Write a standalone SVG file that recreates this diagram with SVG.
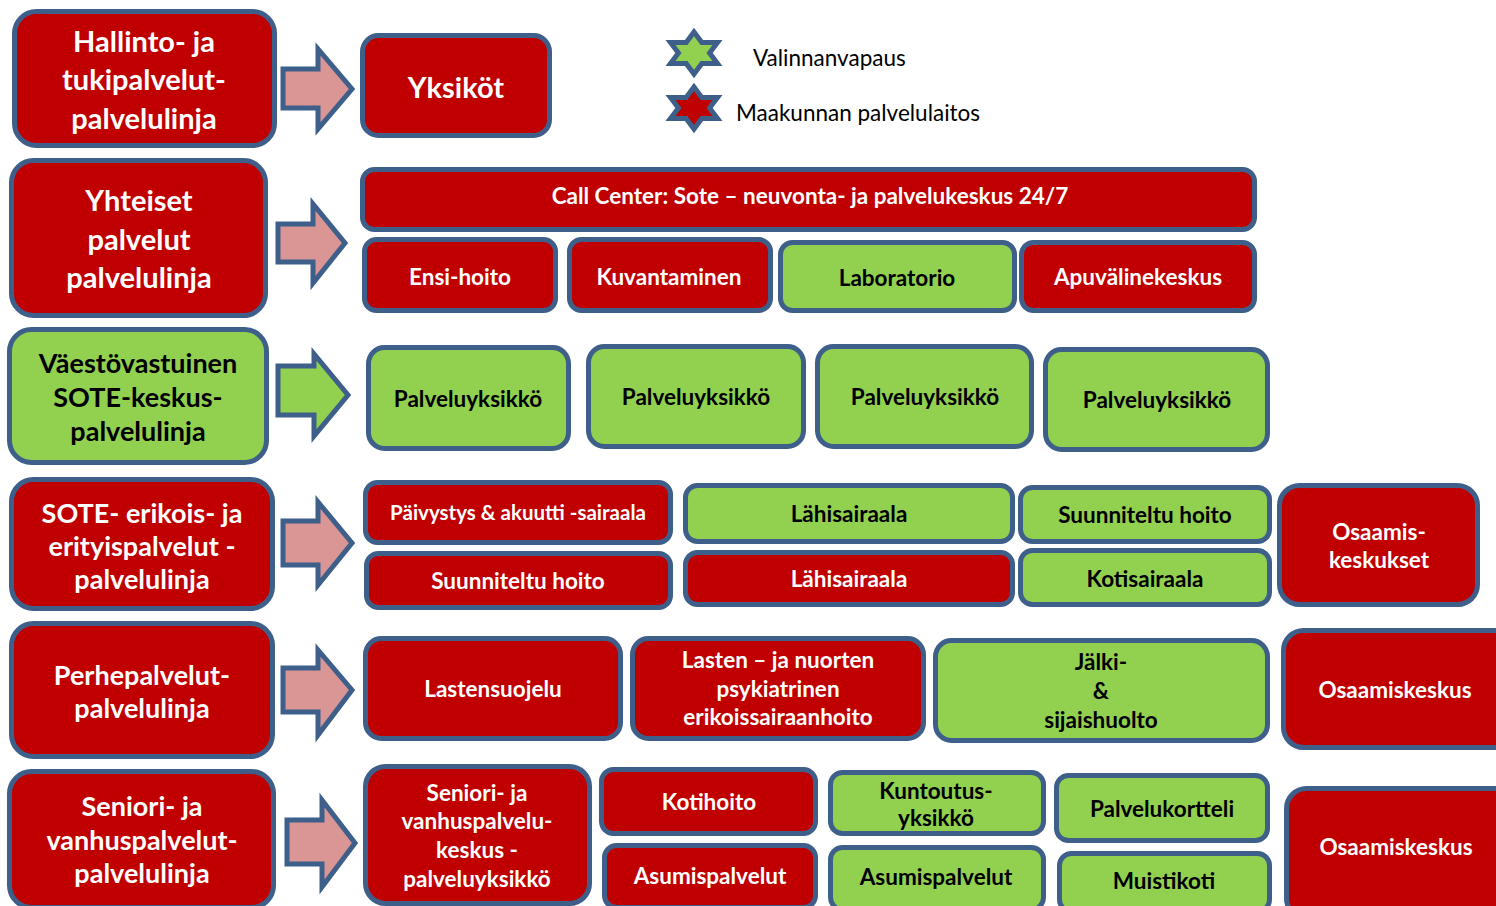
<svg xmlns="http://www.w3.org/2000/svg" width="1496" height="906" viewBox="0 0 1496 906">
<style>
.r{fill:#C00000;stroke:#3E5F8A;stroke-width:5}
.g{fill:#92D050;stroke:#3E5F8A;stroke-width:5}
.ap{fill:#D99694;stroke:#3E5F8A;stroke-width:5;stroke-linejoin:miter}
.ag{fill:#92D050;stroke:#3E5F8A;stroke-width:5;stroke-linejoin:miter}
text{font-family:Lato,"Liberation Sans",sans-serif;font-weight:bold;text-anchor:middle}
.w{fill:#fff}
.b{fill:#000}
.big{font-size:29px}
.big2{font-size:27px}
.med{font-size:22.5px}
.leg{font-weight:normal;font-size:22.5px;text-anchor:start;fill:#000}
</style>
<defs>
<polygon id="star" points="0,-21 7.8,-10.5 23.5,-10.5 15.6,0 23.5,10.5 7.8,10.5 0,21 -7.8,10.5 -23.5,10.5 -15.6,0 -23.5,-10.5 -7.8,-10.5" stroke="#3E5F8A" stroke-width="5" stroke-linejoin="miter"/>
</defs>
<g id="legend">
<use href="#star" x="694" y="53" fill="#92D050"/>
<use href="#star" x="694" y="108" fill="#C00000"/>
<text class="leg" x="753" y="66">Valinnanvapaus</text>
<text class="leg" x="736" y="121">Maakunnan palvelulaitos</text>
</g>
<g id="connectors">
<polygon class="ap" points="283,69 318,69 318,49 352,89 318,129 318,108 283,108"/>
<polygon class="ap" points="278,224 313,224 313,204 345,243 313,283 313,262 278,262"/>
<polygon class="ag" points="278,366 314,366 314,354 348,395 314,436 314,415 278,415"/>
<polygon class="ap" points="283,521 318,521 318,502 352,543 318,585 318,565 283,565"/>
<polygon class="ap" points="283,668 318,668 318,650 352,690 318,735 318,712 283,712"/>
<polygon class="ap" points="287,820 322,820 322,800 355,843 322,887 322,864 287,864"/>
</g>
<g id="n-hallinto"><rect class="r" x="14.5" y="11.5" width="260" height="134" rx="22"/>
<text class="w big" x="144" y="52">Hallinto- ja</text><text class="w big" x="144" y="90">tukipalvelut-</text><text class="w big" x="144" y="129">palvelulinja</text></g>
<g id="n-yksikot"><rect class="r" x="362.5" y="35.5" width="187" height="100" rx="16"/>
<text class="w" style="font-size:29px" x="456" y="98">Yksiköt</text></g>
<g id="n-yhteiset"><rect class="r" x="11.5" y="160.5" width="254" height="155" rx="22"/>
<text class="w big" x="139" y="211">Yhteiset</text><text class="w big" x="139" y="250">palvelut</text><text class="w big" x="139" y="288">palvelulinja</text></g>
<g id="n-call"><rect class="r" x="362.5" y="169.5" width="892" height="60" rx="12"/>
<text class="w med" x="810" y="204">Call Center: Sote – neuvonta- ja palvelukeskus 24/7</text></g>
<g id="n-ensi"><rect class="r" x="364.5" y="239.5" width="191" height="71" rx="12"/><text class="w med" x="460" y="285">Ensi-hoito</text></g>
<g id="n-kuva"><rect class="r" x="569.5" y="239.5" width="201" height="71" rx="12"/><text class="w med" x="669" y="285">Kuvantaminen</text></g>
<g id="n-lab"><rect class="g" x="780.5" y="242.5" width="234" height="68" rx="12"/><text class="b med" x="897" y="286">Laboratorio</text></g>
<g id="n-apu"><rect class="r" x="1021.5" y="242.5" width="233" height="68" rx="12"/><text class="w med" x="1138" y="285">Apuvälinekeskus</text></g>
<g id="n-vaesto"><rect class="g" x="9.5" y="329.5" width="257" height="133" rx="22"/>
<text class="b big2" x="138" y="373">Väestövastuinen</text><text class="b big2" x="138" y="407">SOTE-keskus-</text><text class="b big2" x="138" y="441">palvelulinja</text></g>
<g id="n-py1"><rect class="g" x="368.5" y="347.5" width="200" height="101" rx="16"/><text class="b med" x="468" y="407">Palveluyksikkö</text></g>
<g id="n-py2"><rect class="g" x="588.5" y="346.5" width="215" height="100" rx="16"/><text class="b med" x="696" y="405">Palveluyksikkö</text></g>
<g id="n-py3"><rect class="g" x="817.5" y="346.5" width="214" height="100" rx="16"/><text class="b med" x="925" y="405">Palveluyksikkö</text></g>
<g id="n-py4"><rect class="g" x="1045.5" y="349.5" width="222" height="100" rx="16"/><text class="b med" x="1157" y="408">Palveluyksikkö</text></g>
<g id="n-sote"><rect class="r" x="11.5" y="479.5" width="261" height="129" rx="22"/>
<text class="w big2" x="142" y="523">SOTE- erikois- ja</text><text class="w big2" x="142" y="556">erityispalvelut -</text><text class="w big2" x="142" y="589">palvelulinja</text></g>
<g id="n-paiv"><rect class="r" x="365.5" y="482.5" width="305" height="60" rx="12"/><text class="w" style="font-size:20.5px" x="518" y="520">Päivystys &amp; akuutti -sairaala</text></g>
<g id="n-suun1"><rect class="r" x="366.5" y="553.5" width="304" height="54" rx="12"/><text class="w med" x="518" y="589">Suunniteltu hoito</text></g>
<g id="n-lahi1"><rect class="g" x="685.5" y="485.5" width="327" height="56" rx="12"/><text class="b med" x="849" y="522">Lähisairaala</text></g>
<g id="n-lahi2"><rect class="r" x="685.5" y="552.5" width="327" height="52" rx="12"/><text class="w med" x="849" y="587">Lähisairaala</text></g>
<g id="n-suun2"><rect class="g" x="1020.5" y="487.5" width="249" height="54" rx="12"/><text class="b med" x="1145" y="523">Suunniteltu hoito</text></g>
<g id="n-koti"><rect class="g" x="1020.5" y="550.5" width="249" height="54" rx="12"/><text class="b med" x="1145" y="587">Kotisairaala</text></g>
<g id="n-osaam1"><rect class="r" x="1279.5" y="485.5" width="198" height="119" rx="20"/>
<text class="w med" x="1379" y="540">Osaamis-</text><text class="w med" x="1379" y="568">keskukset</text></g>
<g id="n-perhe"><rect class="r" x="11.5" y="623.5" width="261" height="133" rx="22"/>
<text class="w big2" x="142" y="685">Perhepalvelut-</text><text class="w big2" x="142" y="718">palvelulinja</text></g>
<g id="n-lasten1"><rect class="r" x="365.5" y="638.5" width="255" height="100" rx="16"/><text class="w med" x="493" y="697">Lastensuojelu</text></g>
<g id="n-lasten2"><rect class="r" x="632.5" y="638.5" width="291" height="100" rx="16"/>
<text class="w med" x="778" y="668">Lasten – ja nuorten</text><text class="w med" x="778" y="697">psykiatrinen</text><text class="w med" x="778" y="725">erikoissairaanhoito</text></g>
<g id="n-jalki"><rect class="g" x="935.5" y="640.5" width="332" height="100" rx="16"/>
<text class="b med" x="1101" y="670">Jälki-</text><text class="b med" x="1101" y="699">&amp;</text><text class="b med" x="1101" y="728">sijaishuolto</text></g>
<g id="n-osaam2"><rect class="r" x="1283.5" y="630.5" width="240" height="117" rx="20"/><text class="w med" x="1395" y="698">Osaamiskeskus</text></g>
<g id="n-seniori"><rect class="r" x="9.5" y="771.5" width="264" height="136" rx="22"/>
<text class="w big2" x="142" y="816">Seniori-  ja</text><text class="w big2" x="142" y="850">vanhuspalvelut-</text><text class="w big2" x="142" y="883">palvelulinja</text></g>
<g id="n-senkes"><rect class="r" x="365.5" y="766.5" width="224" height="137" rx="20"/>
<text class="w med" x="477" y="801">Seniori- ja</text><text class="w med" x="477" y="829">vanhuspalvelu-</text><text class="w med" x="477" y="858">keskus -</text><text class="w med" x="477" y="887">palveluyksikkö</text></g>
<g id="n-kotihoito"><rect class="r" x="601.5" y="769.5" width="214" height="64" rx="12"/><text class="w med" x="709" y="810">Kotihoito</text></g>
<g id="n-asum1"><rect class="r" x="604.5" y="845.5" width="211" height="62" rx="12"/><text class="w med" x="710" y="884">Asumispalvelut</text></g>
<g id="n-kunt"><rect class="g" x="830.5" y="772.5" width="213" height="61" rx="12"/>
<text class="b med" x="936" y="799">Kuntoutus-</text><text class="b med" x="936" y="826">yksikkö</text></g>
<g id="n-asum2"><rect class="g" x="830.5" y="847.5" width="213" height="62" rx="12"/><text class="b med" x="936" y="885">Asumispalvelut</text></g>
<g id="n-palvk"><rect class="g" x="1056.5" y="775.5" width="211" height="65" rx="12"/><text class="b med" x="1162" y="817">Palvelukortteli</text></g>
<g id="n-muisti"><rect class="g" x="1059.5" y="853.5" width="210" height="58" rx="12"/><text class="b med" x="1164" y="889">Muistikoti</text></g>
<g id="n-osaam3"><rect class="r" x="1286.5" y="788.5" width="240" height="130" rx="20"/><text class="w med" x="1396" y="855">Osaamiskeskus</text></g>
</svg>
